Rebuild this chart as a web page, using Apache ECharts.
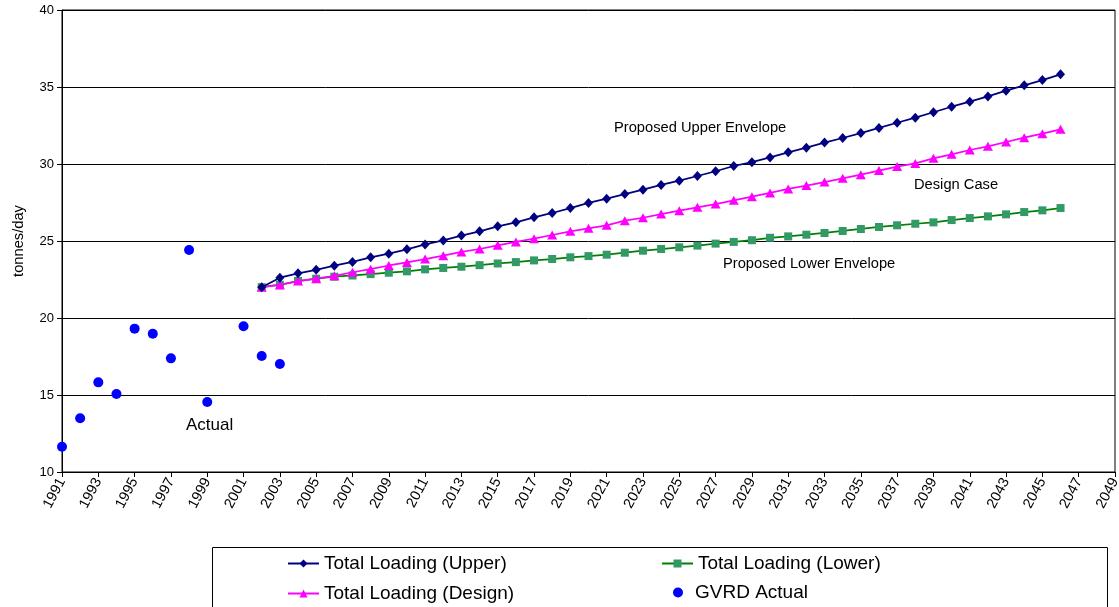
<!DOCTYPE html>
<html>
<head>
<meta charset="utf-8">
<script src="https://cdn.jsdelivr.net/npm/echarts@6/dist/echarts.min.js"></script>
<style>
  html, body { margin: 0; padding: 0; background: #fff; }
  #chart { width: 1119px; height: 607px; }
</style>
</head>
<body>
<div id="chart"></div>
<script>
// Year categories for the horizontal axis (1991 to 2049)
const years = [];
for (let y = 1991; y <= 2049; y++) years.push(String(y));

// Projection years (2002 to 2046)
const projYears = [
  2002, 2003, 2004, 2005, 2006, 2007, 2008, 2009, 2010, 2011,
  2012, 2013, 2014, 2015, 2016, 2017, 2018, 2019, 2020, 2021,
  2022, 2023, 2024, 2025, 2026, 2027, 2028, 2029, 2030, 2031,
  2032, 2033, 2034, 2035, 2036, 2037, 2038, 2039, 2040, 2041,
  2042, 2043, 2044, 2045, 2046
];

// Total loading, upper envelope (tonnes/day)
const upper = [
  22.00, 22.62, 22.90, 23.13, 23.40, 23.64, 23.94, 24.18, 24.46, 24.78,
  25.04, 25.35, 25.63, 25.95, 26.21, 26.54, 26.82, 27.14, 27.47, 27.75,
  28.05, 28.33, 28.64, 28.92, 29.22, 29.53, 29.87, 30.12, 30.43, 30.76,
  31.06, 31.39, 31.69, 32.01, 32.34, 32.68, 33.01, 33.36, 33.72, 34.05,
  34.39, 34.76, 35.11, 35.45, 35.82
];

// Total loading, design case (tonnes/day)
const design = [
  22.00, 22.15, 22.40, 22.55, 22.74, 22.97, 23.17, 23.41, 23.61, 23.83,
  24.05, 24.29, 24.48, 24.72, 24.94, 25.15, 25.39, 25.63, 25.82, 26.02,
  26.32, 26.51, 26.75, 26.97, 27.19, 27.40, 27.64, 27.88, 28.12, 28.38,
  28.60, 28.83, 29.07, 29.31, 29.57, 29.83, 30.04, 30.37, 30.63, 30.91,
  31.15, 31.43, 31.71, 31.97, 32.25
];

// Total loading, lower envelope (tonnes/day)
const lower = [
  22.00, 22.16, 22.40, 22.55, 22.68, 22.76, 22.85, 22.94, 23.03, 23.16,
  23.25, 23.33, 23.43, 23.54, 23.63, 23.74, 23.83, 23.94, 24.02, 24.11,
  24.24, 24.37, 24.48, 24.59, 24.70, 24.83, 24.94, 25.05, 25.21, 25.30,
  25.41, 25.52, 25.65, 25.78, 25.91, 26.02, 26.12, 26.21, 26.36, 26.49,
  26.60, 26.73, 26.88, 26.99, 27.14
];

// GVRD measured loading
const actualYears = [1991, 1992, 1993, 1994, 1995, 1996, 1997, 1998, 1999, 2001, 2002, 2003];
const actual = [11.64, 13.49, 15.82, 15.06, 19.31, 18.98, 17.38, 24.42, 14.55, 19.46, 17.53, 17.01];

const pairs = (xs, ys) => xs.map((x, i) => [String(x), ys[i]]);

const FONT = '"Liberation Sans", Arial, sans-serif';
const legendText = { fontSize: 19, color: '#000', fontFamily: FONT, lineHeight: 19 };

const chart = echarts.init(document.getElementById('chart'), null, { renderer: 'canvas' });

chart.setOption({
  animation: false,
  backgroundColor: '#ffffff',
  textStyle: { fontFamily: FONT, color: '#000' },
  grid: {
    left: 62, right: 4, top: 10, bottom: 135,
    outerBoundsMode: 'none',
    containLabel: false,
    show: true, borderColor: '#000', borderWidth: 1
  },
  xAxis: {
    type: 'category',
    data: years,
    boundaryGap: false,
    axisLine: { lineStyle: { color: '#000', width: 1 } },
    axisTick: { show: true, interval: 1, length: 5, lineStyle: { color: '#000' } },
    axisLabel: {
      interval: 1, rotate: 62, margin: 7,
      fontSize: 14.5, color: '#000', fontFamily: FONT
    },
    splitLine: { show: false }
  },
  yAxis: {
    type: 'value',
    min: 10, max: 40, interval: 5,
    name: 'tonnes/day',
    nameLocation: 'middle',
    nameRotate: 90,
    nameGap: 36,
    nameTextStyle: { fontSize: 14.7, color: '#000', fontFamily: FONT },
    axisLine: { show: true, lineStyle: { color: '#000', width: 1 } },
    axisTick: { show: true, length: 5, lineStyle: { color: '#000' } },
    axisLabel: { fontSize: 13, color: '#000', margin: 8, fontFamily: FONT },
    splitLine: { show: true, lineStyle: { color: '#000', width: 1 } }
  },
  legend: [
    {
      left: 287, top: 554,
      width: 780,
      itemWidth: 31, itemHeight: 10,
      itemGap: 11,
      padding: 0,
      textStyle: Object.assign({ width: 326 }, legendText),
      data: ['Total Loading (Upper)', 'Total Loading (Lower)', 'Total Loading (Design)']
    },
    {
      left: 673, top: 583,
      itemWidth: 10, itemHeight: 10,
      padding: 0,
      textStyle: Object.assign({ padding: [0, 0, 0, 7] }, legendText),
      data: [{ name: 'GVRD Actual', icon: 'circle' }]
    }
  ],
  graphic: [
    { type: 'rect', left: 210, top: 545, shape: { width: 895, height: 60 },
      style: { fill: 'none', stroke: '#000', lineWidth: 1 }, z: 10 },
    { type: 'text', left: 614, top: 120,
      style: { text: 'Proposed Upper Envelope', font: '14.7px ' + FONT, fill: '#000' } },
    { type: 'text', left: 914, top: 177,
      style: { text: 'Design Case', font: '14.7px ' + FONT, fill: '#000' } },
    { type: 'text', left: 723, top: 256,
      style: { text: 'Proposed Lower Envelope', font: '14.7px ' + FONT, fill: '#000' } },
    { type: 'text', left: 186, top: 417,
      style: { text: 'Actual', font: '17px ' + FONT, fill: '#000' } }
  ],
  series: [
    {
      name: 'Total Loading (Upper)',
      type: 'line',
      data: pairs(projYears, upper),
      symbol: 'diamond', symbolSize: [9, 10],
      lineStyle: { color: '#000080', width: 1.75 },
      itemStyle: { color: '#000080' },
      z: 4
    },
    {
      name: 'Total Loading (Lower)',
      type: 'line',
      data: pairs(projYears, lower),
      symbol: 'rect', symbolSize: 8,
      lineStyle: { color: '#008000', width: 1.75 },
      itemStyle: { color: '#339966' },
      z: 2
    },
    {
      name: 'Total Loading (Design)',
      type: 'line',
      data: pairs(projYears, design),
      symbol: 'triangle', symbolSize: [10, 9],
      lineStyle: { color: '#FF00FF', width: 1.75 },
      itemStyle: { color: '#FF00FF' },
      z: 3
    },
    {
      name: 'GVRD Actual',
      type: 'scatter',
      data: pairs(actualYears, actual),
      symbol: 'circle', symbolSize: 10,
      itemStyle: { color: '#0000FF', opacity: 1 },
      z: 5
    }
  ]
});
</script>
</body>
</html>
